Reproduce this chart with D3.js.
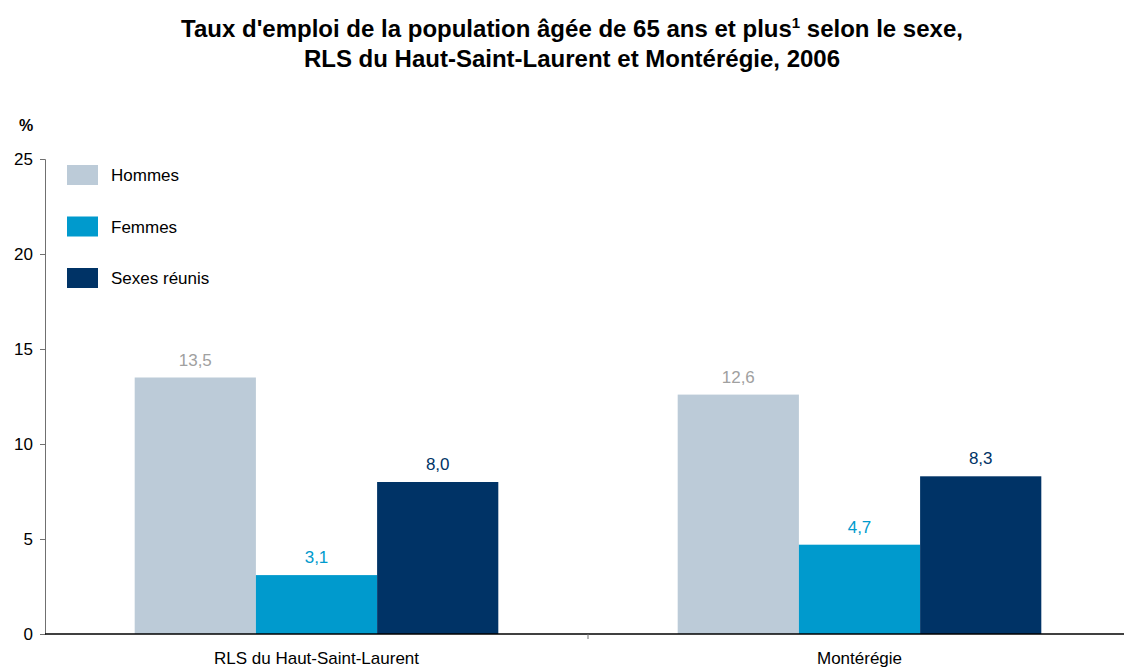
<!DOCTYPE html>
<html>
<head>
<meta charset="utf-8">
<script src="https://cdn.jsdelivr.net/npm/d3@7"></script>
<style>
  body { margin: 0; background: #fff; }
  svg { display: block; font-family: "Liberation Sans", Arial, sans-serif; }
</style>
</head>
<body>
<div id="chart"></div>
<script>
// données
var regions = ['RLS du Haut-Saint-Laurent', 'Montérégie'];
var series = ['Hommes', 'Femmes', 'Sexes réunis'];
var hommes = [13.5, 12.6];
var femmes = [3.1, 4.7];
var sexesReunis = [8.0, 8.3];
var yTicks = [0, 5, 10, 15, 20, 25];

var colors = ['#bccbd8', '#009acd', '#003366'];
var labelColors = ['#a0a0a0', '#009acd', '#003366'];

var width = 1124, height = 667;
var margin = { top: 159, right: -7, bottom: 33, left: 45 };

var svg = d3.select('#chart').append('svg')
    .attr('width', width)
    .attr('height', height);

// titre
var title = svg.append('text')
    .attr('text-anchor', 'middle')
    .attr('font-weight', 'bold')
    .attr('font-size', 24)
    .attr('fill', '#000');
var t1 = title.append('tspan').attr('x', 572).attr('y', 37);
t1.append('tspan').text("Taux d'emploi de la population âgée de 65 ans et plus");
t1.append('tspan').attr('font-size', 15).attr('dy', -9).text('1');
t1.append('tspan').attr('dy', 9).text(' selon le sexe,');
title.append('tspan').attr('x', 572).attr('y', 67)
    .text('RLS du Haut-Saint-Laurent et Montérégie, 2006');

var w = width - margin.left - margin.right;
var h = height - margin.top - margin.bottom;

var x0 = d3.scaleBand().domain(regions).range([0, w]).paddingInner(0).paddingOuter(0);
var x1 = d3.scaleBand().domain(series).range([0, x0.bandwidth()]).paddingOuter(0.74);
var y = d3.scaleLinear().domain([0, 25]).range([h, 0]);

var g = svg.append('g').attr('transform', 'translate(' + margin.left + ',' + margin.top + ')');

var rows = regions.map(function (r, i) {
    return { region: r, values: [hommes[i], femmes[i], sexesReunis[i]] };
});

var groups = g.selectAll('g.grp').data(rows).enter().append('g')
    .attr('class', 'grp')
    .attr('transform', function (d) { return 'translate(' + x0(d.region) + ',0)'; });

groups.selectAll('rect').data(function (d) {
    return d.values.map(function (v, j) { return { s: series[j], v: v, j: j }; });
}).enter().append('rect')
    .attr('x', function (d) { return x1(d.s); })
    .attr('y', function (d) { return y(d.v); })
    .attr('width', x1.bandwidth())
    .attr('height', function (d) { return h - y(d.v); })
    .attr('fill', function (d) { return colors[d.j]; });

groups.selectAll('text.val').data(function (d) {
    return d.values.map(function (v, j) { return { s: series[j], v: v, j: j }; });
}).enter().append('text')
    .attr('class', 'val')
    .attr('x', function (d) { return x1(d.s) + x1.bandwidth() / 2; })
    .attr('y', function (d) { return y(d.v) - 12; })
    .attr('text-anchor', 'middle')
    .attr('font-size', 17)
    .attr('fill', function (d) { return labelColors[d.j]; })
    .text(function (d) { return d3.format('.1f')(d.v).replace('.', ','); });

// axe y
var yAxis = g.append('g').call(d3.axisLeft(y).tickValues(yTicks).tickSize(5).tickPadding(7));
yAxis.select('.domain').attr('stroke', '#707070');
yAxis.selectAll('.tick line').attr('stroke', '#707070');
yAxis.selectAll('.tick text').attr('font-size', 17).attr('fill', '#000')
    .attr('font-family', '"Liberation Sans", Arial, sans-serif');

svg.append('text')
    .attr('x', 26).attr('y', 131)
    .attr('text-anchor', 'middle')
    .attr('font-weight', 'bold')
    .attr('font-size', 16)
    .text('%');

// axe x
g.append('line')
    .attr('x1', 0).attr('x2', w)
    .attr('y1', h).attr('y2', h)
    .attr('stroke', '#000').attr('stroke-width', 1.5);
g.append('line')
    .attr('x1', x0.bandwidth()).attr('x2', x0.bandwidth())
    .attr('y1', h).attr('y2', h + 5)
    .attr('stroke', '#707070');
g.selectAll('text.cat').data(regions).enter().append('text')
    .attr('class', 'cat')
    .attr('x', function (d) { return x0(d) + x0.bandwidth() / 2; })
    .attr('y', h + 30)
    .attr('text-anchor', 'middle')
    .attr('font-size', 17)
    .attr('fill', '#000')
    .text(function (d) { return d; });

// légende
var legend = svg.append('g').attr('transform', 'translate(67,165)');
var items = legend.selectAll('g').data(series).enter().append('g')
    .attr('transform', function (d, i) { return 'translate(0,' + (i * 51.5) + ')'; });
items.append('rect').attr('width', 31).attr('height', 20)
    .attr('fill', function (d, i) { return colors[i]; });
items.append('text').attr('x', 44).attr('y', 16)
    .attr('font-size', 17).attr('fill', '#000')
    .text(function (d) { return d; });
</script>
</body>
</html>
